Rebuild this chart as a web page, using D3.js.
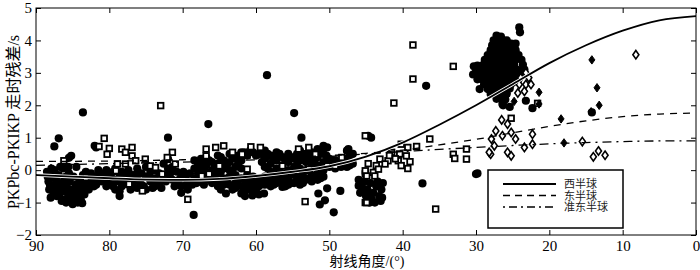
<!DOCTYPE html>
<html>
<head>
<meta charset="utf-8">
<script src="https://cdn.jsdelivr.net/npm/d3@7"></script>
<style>
  body { margin: 0; background: #fff; }
  svg text { font-family: "Liberation Serif", "Noto Sans CJK SC", serif; fill: #000; }
</style>
</head>
<body>
<svg id="chart" width="700" height="270"></svg>
<script>
// tick values
const xTicks = [90, 80, 70, 60, 50, 40, 30, 20, 10, 0];
const yTicks = [-2, -1, 0, 1, 2, 3, 4, 5];

// legend labels
const seriesNames = ["西半球", "东半球", "准东半球"];

// fitted curves [angle, residual]
const westCurve = [[90,-0.15],[85,-0.2],[80,-0.25],[75,-0.29],[70,-0.3],[65,-0.27],[60,-0.18],[55,-0.05],[50,0.12],[45,0.42],[40,0.85],[35,1.4],[30,2.0],[25,2.65],[20,3.3],[15,3.85],[10,4.3],[5,4.62],[0,4.75]];
const eastCurve = [[90,0.27],[80,0.28],[70,0.32],[60,0.38],[50,0.45],[45,0.52],[40,0.62],[35,0.78],[30,0.95],[25,1.15],[20,1.35],[15,1.52],[10,1.65],[5,1.73],[0,1.76]];
const quasiCurve = [[90,0.15],[80,0.2],[70,0.25],[60,0.32],[50,0.42],[45,0.5],[40,0.57],[35,0.64],[30,0.7],[25,0.76],[20,0.81],[15,0.85],[10,0.88],[5,0.9],[0,0.9]];

// filled circles
const circlePts = [
  // blob near 85 deg
  [88.5,-0.05],[88.3,-0.35],[88.2,-0.6],[88.0,-0.2],[87.8,-0.5],[87.6,-0.72],[87.5,0.0],[87.3,-0.3],[87.1,-0.55],[86.9,-0.15],
  [86.8,-0.8],[86.6,-0.4],[86.4,-0.65],[86.3,0.05],[86.1,-0.25],[86.0,-0.9],[85.8,-0.5],[85.7,-0.7],[85.5,-0.1],[85.4,-0.35],
  [85.3,-0.95],[85.1,-0.6],[85.0,-1.05],[84.9,-0.2],[84.8,-0.8],[84.6,-0.45],[84.5,0.1],[84.4,-0.7],[84.3,-1.0],[84.1,-0.3],
  [84.0,-0.55],[83.9,-0.9],[83.7,-1.02],[83.6,-0.15],[83.5,-0.4],[83.4,-0.75],[83.2,-0.05],[83.1,-0.55],[82.9,-0.3],[82.7,-0.45],
  [82.5,-0.1],[82.3,-0.25],[82.1,-0.5],[81.9,-0.2],[81.7,-0.35],[81.5,0.0],[88.0,-0.85],[87.2,-0.8],[86.5,-0.95],[85.9,-1.0],
  [85.2,-0.85],[84.2,-0.85],[86.7,0.1],[87.9,0.05],[85.6,0.1],
  [88.4,-0.2],[88.1,-0.45],[87.7,-0.1],[87.4,-0.65],[87.0,-0.4],[86.7,-0.6],[86.2,-0.45],[85.9,-0.2],[85.6,-0.85],[84.7,-0.6],
  [84.6,-0.95],[84.2,-0.45],[83.8,-0.3],[83.9,-0.65],[83.0,-0.15],[82.8,-0.6],[82.4,-0.4],[81.8,-0.45],[81.3,-0.25],
  [83.6,1.78],[86.9,0.98],[87.5,0.73],[85.2,0.44],[85.5,0.38],[82.0,0.75],[81.8,0.7],
  // band 81-68 deg
  [81.0,-0.1],[81.0,-0.35],[80.4,0.0],[80.4,-0.25],[80.4,-0.5],[79.8,-0.15],[79.8,-0.4],[79.2,0.05],[79.2,-0.3],[79.2,-0.6],
  [78.6,-0.2],[78.6,-0.65],[78.6,-0.8],[78.0,-0.1],[78.0,-0.35],[77.4,0.0],[77.4,-0.25],[77.4,-0.45],[76.8,-0.15],[76.8,-0.4],
  [76.2,0.05],[76.2,-0.3],[76.2,-0.55],[75.6,-0.1],[75.6,-0.45],[75.0,0.1],[75.0,-0.2],[75.0,-0.6],[74.4,-0.05],[74.4,-0.35],
  [73.8,0.0],[73.8,-0.25],[73.8,-0.5],[73.2,-0.1],[73.2,-0.4],[72.6,0.2],[72.6,-0.2],[72.0,0.35],[72.0,0.05],[72.0,-0.15],
  [71.4,0.1],[71.4,-0.3],[70.8,-0.05],[70.8,-0.35],[70.2,-0.15],[70.2,-0.5],[70.2,-0.7],[69.6,-0.2],[69.6,-0.45],[69.0,-0.1],
  [69.0,-0.35],[68.4,0.3],[68.4,0.05],[68.4,-0.25],[67.9,0.2],[67.9,-0.1],
  [80.7,-0.2],[80.1,-0.4],[79.5,-0.05],[79.5,-0.5],[78.9,-0.35],[78.3,-0.05],[78.3,-0.5],[77.7,-0.2],[77.1,-0.6],[76.5,-0.15],
  [75.9,-0.35],[75.3,-0.5],[74.7,-0.2],[74.1,-0.55],[73.5,-0.35],[72.9,-0.55],[72.3,-0.35],[71.7,-0.1],[71.1,-0.5],[70.5,-0.3],
  [69.9,-0.05],[69.3,-0.6],[68.7,-0.45],[68.1,-0.4],
  [72.0,1.0],[68.5,-1.38],
  // band 68-46 deg
  [67.5,0.35],[67.5,0.1],[67.5,-0.15],[67.5,-0.35],[66.8,0.4],[66.8,0.15],[66.8,-0.05],[66.8,-0.3],[66.0,0.25],[66.0,0.0],
  [66.0,-0.2],[66.0,-0.4],[65.2,0.45],[65.2,0.2],[65.2,-0.1],[65.2,-0.35],[65.2,-0.5],[64.4,0.3],[64.4,0.05],[64.4,-0.25],
  [64.4,-0.45],[64.1,-0.72],[63.6,0.5],[63.6,0.25],[63.6,0.0],[63.6,-0.2],[63.6,-0.45],[62.8,0.35],[62.8,0.1],[62.8,-0.15],
  [62.8,-0.4],[62.8,-0.55],[62.0,0.55],[62.0,0.3],[62.0,0.05],[62.0,-0.25],[62.0,-0.5],[62.0,-0.72],[61.2,0.45],[61.2,-0.15],
  [61.2,-0.4],[61.2,-0.6],[61.5,-0.8],[60.4,0.55],[60.4,-0.2],[60.4,-0.45],[60.4,-0.7],[60.5,-0.78],[59.6,0.5],[59.6,-0.25],
  [59.6,-0.5],[59.6,-0.75],[58.9,-0.72],[58.8,0.6],[58.8,0.35],[58.8,0.1],[58.8,-0.2],[58.8,-0.45],[58.0,0.45],[58.0,0.2],
  [58.0,-0.05],[58.0,-0.3],[58.0,-0.5],[57.2,0.55],[57.2,0.3],[57.2,0.05],[57.2,-0.2],[57.2,-0.4],[56.4,0.4],[56.4,0.15],
  [56.4,-0.1],[56.4,-0.35],[56.4,-0.52],[55.6,0.5],[55.6,0.25],[55.6,0.0],[55.6,-0.25],[55.6,-0.45],[54.8,0.35],[54.8,0.1],
  [54.8,-0.15],[54.8,-0.4],[54.0,0.6],[54.0,0.3],[54.0,0.05],[54.0,-0.2],[54.0,-0.45],[53.2,0.5],[53.2,0.25],[53.2,0.0],
  [53.2,-0.3],[52.4,0.55],[52.4,0.3],[52.4,0.1],[52.4,-0.15],[52.4,-0.35],[51.6,0.65],[51.6,0.4],[51.6,0.15],[51.6,-0.1],
  [51.6,-0.3],[50.8,0.75],[50.8,0.5],[50.8,0.25],[50.8,0.0],[50.8,-0.2],[50.0,0.35],[50.0,0.1],[49.2,0.3],[49.2,0.05],
  [48.4,0.25],[48.4,0.1],[47.6,0.6],[47.6,0.35],[47.6,0.1],[46.8,0.5],[46.8,0.2],
  [67.1,0.2],[67.1,-0.05],[67.1,-0.45],[66.4,0.3],[66.4,-0.15],[65.6,0.1],[65.6,-0.3],[64.8,0.4],[64.8,-0.05],[64.8,-0.6],
  [64.0,0.15],[64.0,-0.35],[63.2,0.4],[63.2,-0.1],[63.2,-0.6],[62.4,0.45],[62.4,0.2],[62.4,-0.3],[61.6,0.55],[61.6,-0.3],
  [61.6,-0.55],[60.8,0.6],[60.8,-0.3],[60.8,-0.6],[60.0,0.45],[60.0,-0.35],[60.0,-0.6],[59.2,0.55],[59.2,0.25],[59.2,-0.4],
  [58.4,0.5],[58.4,0.05],[58.4,-0.35],[57.6,0.35],[57.6,-0.15],[57.6,-0.45],[56.8,0.5],[56.8,0.0],[56.8,-0.3],[56.0,0.3],
  [56.0,-0.2],[56.0,-0.5],[55.2,0.4],[55.2,-0.1],[55.2,-0.4],[54.4,0.5],[54.4,0.15],[54.4,-0.3],[53.6,0.4],[53.6,-0.1],
  [53.6,-0.4],[52.8,0.45],[52.8,0.0],[52.8,-0.25],[52.0,0.5],[52.0,0.2],[52.0,-0.2],[51.2,0.55],[51.2,0.05],[51.2,-0.25],
  [50.4,0.45],[50.4,0.2],[49.6,0.2],[48.8,0.2],[48.0,0.3],[47.2,0.45],[47.2,0.15],
  [66.5,1.42],[58.5,2.93],[54.8,1.76],[53.8,1.0],[51.5,-0.72],[50.3,-0.56],[50.6,-0.93],[51.3,-1.06],[49.4,-1.3],[48.5,-0.64],
  [47.4,0.65],[46.0,-0.48],[45.1,-0.59],[50.3,0.7],
  // blob near 44 deg
  [46.0,-0.3],[45.6,-0.5],[45.2,-0.35],[44.8,-0.6],[44.4,-0.4],[44.0,-0.7],[43.6,-0.5],[43.2,-0.8],[42.9,-0.6],[44.2,-0.9],
  [43.8,-1.0],[45.0,-0.8],[42.7,-0.4],[45.8,-0.7],[44.6,-0.75],[43.4,-0.35],[42.8,-0.85],[43.0,-0.95],[44.5,-1.0],
  [44.7,1.06],[44.3,1.0],[36.8,2.6],[30.0,-0.12],[37.3,-0.41],[29.8,-0.1],
  // big cluster near 26 deg
  [27.2,4.15],[26.6,4.12],[27.6,4.0],[27.0,3.98],[26.4,4.02],[27.8,3.85],[27.2,3.87],[26.6,3.83],[26.0,3.86],[28.0,3.7],
  [27.4,3.72],[26.8,3.68],[26.2,3.7],[28.4,3.55],[27.8,3.57],[27.2,3.53],[26.6,3.56],[26.0,3.54],[25.4,3.57],[28.8,3.4],
  [28.2,3.42],[27.6,3.38],[27.0,3.41],[26.4,3.39],[25.8,3.42],[25.2,3.38],[24.7,3.4],[29.0,3.25],[28.4,3.27],[27.8,3.23],
  [27.2,3.26],[26.6,3.24],[26.0,3.27],[25.4,3.23],[24.8,3.26],[30.0,3.1],[29.4,3.12],[28.8,3.08],[28.2,3.11],[27.6,3.09],
  [27.0,3.12],[26.4,3.08],[25.8,3.11],[25.2,3.09],[24.6,3.12],[24.0,3.08],[29.6,2.95],[29.0,2.97],[28.4,2.93],[27.8,2.96],
  [27.2,2.94],[26.6,2.97],[26.0,2.93],[25.4,2.96],[24.8,2.94],[24.2,2.97],[29.2,2.8],[28.6,2.82],[28.0,2.78],[27.4,2.81],
  [26.8,2.79],[26.2,2.82],[25.6,2.78],[25.0,2.81],[28.9,2.65],[28.3,2.67],[27.7,2.63],[27.1,2.66],[26.5,2.64],[25.9,2.67],
  [25.3,2.63],[28.4,2.5],[27.8,2.52],[27.2,2.48],[26.6,2.51],[26.0,2.49],[25.4,2.52],[27.6,2.35],[27.0,2.37],[26.4,2.33],
  [25.8,2.36],[27.2,2.2],[26.6,2.22],[26.0,2.18],
  [23.6,3.25],[23.4,3.1],[23.8,3.4],[24.2,3.55],[24.6,3.7],[25.0,3.55],[25.4,3.75],[25.2,3.9],[25.8,4.0],[23.9,3.0],
  [29.5,2.5],[28.0,2.35],[25.0,2.7],[24.6,2.85],[30.4,2.95],[29.8,2.8],
  [24.1,4.4],[24.0,4.25],[24.6,3.9],[29.8,3.22],[30.3,3.2],[26.4,2.04],[23.2,2.14],[22.3,1.91],[26.3,2.0],[25.4,1.95],
  [14.2,1.78]
];

// open squares
const squarePts = [
  [73.0,1.99],[80.7,0.98],[81.4,0.73],[80.0,0.67],[80.3,0.49],[78.3,0.65],[76.9,0.7],[77.8,0.55],[76.9,0.44],[76.4,0.29],
  [78.9,0.19],[77.8,0.19],[75.1,0.34],[79.1,-0.02],[74.4,0.13],[72.8,-0.12],[71.4,0.55],[72.1,0.39],[71.0,0.19],[75.5,-0.64],
  [77.3,-0.43],[69.3,-0.9],[67.4,-0.18],[73.7,0.08],[83.2,-0.23],[86.2,0.29],
  [66.8,0.65],[65.5,0.7],[64.4,0.75],[66.8,0.44],[63.2,0.55],[61.9,0.49],[60.7,0.72],[59.4,0.7],[54.2,0.65],[52.8,0.7],
  [51.9,0.49],[50.3,0.13],[49.2,0.13],[48.3,0.39],[45.1,1.06],[45.1,-0.12],[45.1,-1.0],[53.3,-0.97],[65.0,0.13],[66.4,-0.12],
  [56.4,0.13],[52.8,0.03],[61.2,0.03],
  [38.6,3.86],[33.1,3.2],[38.6,2.81],[41.2,2.07],[36.3,0.96],[31.3,0.65],[33.1,0.49],[32.9,0.36],[31.3,0.34],[35.5,-1.2],
  [44.9,-1.0],[40.2,0.8],[39.3,0.7],[38.1,0.73],[41.5,0.55],[40.4,0.5],[39.5,0.44],[43.1,0.34],[42.0,0.29],[40.6,0.29],
  [39.0,0.26],[44.7,0.2],[43.6,0.14],[42.4,0.19],[40.2,0.14],[39.3,0.05],[45.1,-0.02],[44.0,-0.07],[43.3,0.03],[44.9,-0.18],
  [43.8,-0.18],[41.8,0.45],[41.0,0.35],
  [21.6,2.06],[25.2,1.6]
];

// filled diamonds
const diamondFillPts = [
  [21.4,2.4],[21.4,2.04],[18.4,1.58],[18.0,0.84],[24.8,2.12],[14.2,3.4],[13.5,2.54],[13.2,2.0],[14.3,1.8]
];

// open diamonds
const diamondOpenPts = [
  [26.5,1.55],[27.3,1.21],[26.4,1.06],[27.9,0.96],[27.5,0.75],[28.0,0.49],[25.7,1.42],[25.2,1.16],[24.6,0.96],[22.3,1.11],
  [28.2,0.55],[23.4,0.7],[22.3,0.8],[25.7,0.55],[25.2,0.44],[8.2,3.56],[15.5,0.88],[14.0,0.41],[13.3,0.59],[12.4,0.46],
  [23.2,3.0],[23.9,2.85],[22.8,2.85],[24.1,2.64],[23.2,2.64],[22.5,2.64],[23.4,2.43],[24.3,2.38]
];

const margin = {top: 8, right: 4, bottom: 35, left: 36},
    width = 700 - margin.left - margin.right,
    height = 270 - margin.top - margin.bottom;

const svg = d3.select("#chart")
    .append("g")
    .attr("transform", "translate(" + margin.left + "," + margin.top + ")");

const xScale = d3.scaleLinear().domain([90, 0]).range([0, width]);
const yScale = d3.scaleLinear().domain([-2, 5]).range([height, 0]);

// markers
svg.append("g").selectAll("circle")
    .data(circlePts)
    .enter().append("circle")
    .attr("cx", function (d) { return xScale(d[0]); })
    .attr("cy", function (d) { return yScale(d[1]); })
    .attr("r", 4.1)
    .style("fill", "#000");

svg.append("g").selectAll("rect")
    .data(squarePts)
    .enter().append("rect")
    .attr("x", function (d) { return xScale(d[0]) - 2.8; })
    .attr("y", function (d) { return yScale(d[1]) - 2.8; })
    .attr("width", 5.6)
    .attr("height", 5.6)
    .style("fill", "#fff")
    .style("stroke", "#000")
    .style("stroke-width", 1.8);

const diamond = "M0,-4.2L3,0L0,4.2L-3,0Z";

svg.append("g").selectAll("path")
    .data(diamondFillPts)
    .enter().append("path")
    .attr("d", diamond)
    .attr("transform", function (d) { return "translate(" + xScale(d[0]) + "," + yScale(d[1]) + ")"; })
    .style("fill", "#000")
    .style("stroke", "#000")
    .style("stroke-width", 1);

svg.append("g").selectAll("path")
    .data(diamondOpenPts)
    .enter().append("path")
    .attr("d", diamond)
    .attr("transform", function (d) { return "translate(" + xScale(d[0]) + "," + yScale(d[1]) + ")"; })
    .style("fill", "#fff")
    .style("stroke", "#000")
    .style("stroke-width", 1.6);

// curves
const line = d3.line()
    .x(function (d) { return xScale(d[0]); })
    .y(function (d) { return yScale(d[1]); })
    .curve(d3.curveMonotoneX);

svg.append("path").datum(westCurve)
    .attr("d", line).style("fill", "none").style("stroke", "#fff").style("stroke-width", 3.5);
svg.append("path").datum(westCurve)
    .attr("d", line).style("fill", "none").style("stroke", "#000").style("stroke-width", 1.8);
svg.append("path").datum(eastCurve)
    .attr("d", line).style("fill", "none").style("stroke", "#000").style("stroke-width", 1.3)
    .style("stroke-dasharray", "7,6");
svg.append("path").datum(quasiCurve)
    .attr("d", line).style("fill", "none").style("stroke", "#000").style("stroke-width", 1.3)
    .style("stroke-dasharray", "9,5,2,5");

// frame + axes (ticks pointing inward)
svg.append("rect")
    .attr("width", width).attr("height", height)
    .style("fill", "none").style("stroke", "#000").style("stroke-width", 1);

svg.append("g")
    .attr("class", "x-axis")
    .attr("transform", "translate(0," + height + ")")
    .call(d3.axisBottom(xScale).tickValues(xTicks).tickSize(-5).tickPadding(5).tickFormat(d3.format("d")));
svg.append("g")
    .call(d3.axisTop(xScale).tickValues(xTicks).tickSize(-5).tickFormat(""));
svg.append("g")
    .attr("class", "y-axis")
    .call(d3.axisLeft(yScale).tickValues(yTicks).tickSize(-5).tickPadding(4).tickFormat(d3.format("d")));
svg.append("g")
    .attr("transform", "translate(" + width + ",0)")
    .call(d3.axisRight(yScale).tickValues(yTicks).tickSize(-5).tickFormat(""));

svg.selectAll(".domain").remove();
svg.selectAll(".tick line").style("stroke", "#000");
svg.selectAll(".x-axis text, .y-axis text")
    .style("font-family", "'Liberation Serif', serif")
    .style("font-size", "15px");

// axis titles
svg.append("text")
    .attr("x", 367 - margin.left)
    .attr("y", 266 - margin.top)
    .attr("text-anchor", "middle")
    .style("font-size", "14px")
    .text("射线角度/(°)");

svg.append("text")
    .attr("transform", "translate(" + (19 - margin.left) + "," + (122 - margin.top) + ") rotate(-90)")
    .attr("text-anchor", "middle")
    .style("font-size", "16px")
    .text("PKPbc-PKIKP 走时残差/s");

// legend
const legend = svg.append("g")
    .attr("transform", "translate(" + (488 - margin.left) + "," + (170 - margin.top) + ")");
legend.append("rect")
    .attr("width", 135).attr("height", 58)
    .style("fill", "#fff").style("stroke", "#000").style("stroke-width", 1.5);

const legendDash = [null, "7,5", "2,4,8,4"];
seriesNames.forEach(function (name, i) {
    const ly = 14 + i * 11.5;
    legend.append("line")
        .attr("x1", 15).attr("x2", 68).attr("y1", ly).attr("y2", ly)
        .style("stroke", "#000").style("stroke-width", i === 0 ? 1.8 : 1.3)
        .style("stroke-dasharray", legendDash[i]);
    legend.append("text")
        .attr("x", 76).attr("y", ly + 4)
        .style("font-size", "11px")
        .style("fill", "#222")
        .text(name);
});
</script>
</body>
</html>
